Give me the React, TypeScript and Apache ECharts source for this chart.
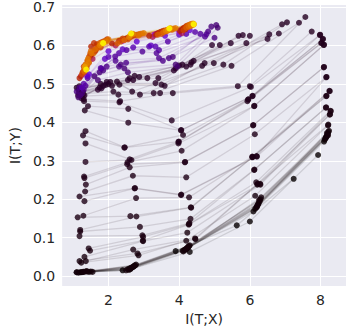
import React, { useEffect, useRef } from "react";
import * as echarts from "echarts";

// Epoch of each snapshot (colour = gnuplot colormap of epoch / MAX_EPOCH)
const MAX_EPOCH = 2000;
const epochs = [
  1, 2, 3, 4, 5, 6, 7, 8, 9, 10, 11, 12, 13, 14,
  15, 16, 17, 18, 19, 20, 21, 22, 23, 24, 25, 26, 27, 28, 29, 30, 31, 32, 33, 34, 35, 36, 37, 38,
  39, 40, 41, 42, 43, 44, 45, 46, 47, 48, 49, 50, 51, 52, 53,
  140, 150, 160, 170, 180, 190, 200, 210, 225, 240, 270, 300,
  700, 840, 960, 1040, 1100, 1160, 1240, 1320, 1400, 1440, 1480, 1520, 1560, 1600, 1700, 2000,
  900, 1000, 1080, 1200, 1280, 1360, 1420, 1460, 1500, 1540, 1580, 1640,
];

// Layer 1 (closest to input) ... layer 5: I(T;X) and I(T;Y) per epoch
const layer1X = [
  7.24, 7.93, 8.10, 8.12, 8.15, 8.18, 8.20, 8.22, 8.16, 8.24, 8.14, 8.20, 8.18, 8.21,
  8.21, 8.22, 8.26, 8.27, 8.29, 8.28, 8.15, 8.16, 8.16, 8.17, 8.26, 8.25, 8.16, 8.17, 8.09, 8.10, 8.09, 8.10, 8.02, 8.03, 8.06, 8.07, 7.98, 7.99,
  7.75, 7.57, 7.39, 7.05, 6.91, 6.82, 6.55, 6.50, 6.00, 5.90, 5.80, 5.68, 5.46, 5.15, 4.93,
  5.09, 5.05, 4.91, 5.00, 4.82, 4.77, 4.73, 4.60, 4.45, 4.20, 4.00, 4.30,
  4.00, 4.05, 4.10, 4.12, 4.15, 4.18, 4.20, 4.22, 4.25, 4.28, 4.30, 4.32, 4.35, 4.38, 4.40, 4.41,
  4.08, 4.02, 4.18, 4.25, 4.12, 4.30, 4.20, 4.35, 4.27, 4.40, 4.33, 4.42,
];
const layer1Y = [
  0.253, 0.315, 0.350, 0.355, 0.360, 0.365, 0.370, 0.375, 0.362, 0.378, 0.358, 0.368, 0.372, 0.366,
  0.392, 0.394, 0.420, 0.421, 0.429, 0.430, 0.438, 0.439, 0.468, 0.469, 0.481, 0.482, 0.517, 0.518, 0.543, 0.544, 0.601, 0.602, 0.606, 0.607, 0.616, 0.617, 0.627, 0.628,
  0.636, 0.674, 0.659, 0.660, 0.655, 0.631, 0.629, 0.617, 0.625, 0.606, 0.627, 0.625, 0.606, 0.601, 0.601,
  0.646, 0.653, 0.649, 0.620, 0.636, 0.629, 0.623, 0.630, 0.635, 0.630, 0.628, 0.640,
  0.636, 0.640, 0.642, 0.645, 0.646, 0.648, 0.650, 0.651, 0.652, 0.653, 0.654, 0.655, 0.656, 0.656, 0.657, 0.655,
  0.632, 0.638, 0.642, 0.648, 0.640, 0.650, 0.646, 0.652, 0.649, 0.654, 0.651, 0.655,
];
const layer2X = [
  5.63, 6.00, 6.10, 6.15, 6.20, 6.22, 6.25, 6.28, 6.30, 6.18, 6.24, 6.32, 6.26, 6.21,
  6.15, 6.21, 6.22, 6.30, 6.29, 6.18, 6.12, 6.13, 6.07, 6.08, 6.07, 6.20, 6.19, 6.14, 6.09, 6.10, 6.12, 6.13, 5.93, 5.95, 5.96, 6.07, 6.08, 6.03,
  6.00, 5.66, 5.48, 5.25, 4.98, 4.65, 4.72, 4.35, 4.41, 4.32, 4.09, 4.20, 4.00, 3.90, 3.85,
  3.95, 3.90, 3.82, 3.71, 3.54, 3.43, 3.36, 3.43, 3.68, 3.33, 3.20, 3.60,
  3.30, 3.35, 3.40, 3.45, 3.50, 3.55, 3.60, 3.65, 3.70, 3.75, 3.80, 3.85, 3.90, 3.70, 3.75, 3.72,
  3.25, 3.15, 3.35, 3.45, 3.60, 3.50, 3.40, 3.65, 3.55, 3.80, 3.62, 3.68,
];
const layer2Y = [
  0.132, 0.142, 0.168, 0.175, 0.180, 0.185, 0.190, 0.195, 0.200, 0.178, 0.188, 0.205, 0.198, 0.183,
  0.209, 0.238, 0.240, 0.238, 0.240, 0.244, 0.276, 0.277, 0.309, 0.310, 0.311, 0.311, 0.312, 0.369, 0.392, 0.393, 0.442, 0.443, 0.455, 0.459, 0.460, 0.468, 0.469, 0.492,
  0.494, 0.494, 0.547, 0.550, 0.554, 0.547, 0.554, 0.556, 0.560, 0.550, 0.550, 0.545, 0.548, 0.540, 0.535,
  0.545, 0.550, 0.570, 0.567, 0.560, 0.567, 0.580, 0.588, 0.610, 0.597, 0.600, 0.625,
  0.628, 0.630, 0.632, 0.634, 0.636, 0.638, 0.639, 0.640, 0.641, 0.642, 0.643, 0.644, 0.645, 0.642, 0.645, 0.644,
  0.622, 0.625, 0.628, 0.633, 0.636, 0.630, 0.628, 0.637, 0.634, 0.641, 0.638, 0.640,
];
const layer3X = [
  3.90, 4.30, 4.10, 4.15, 4.20, 4.22, 4.25, 4.28, 4.30, 4.18, 4.24, 4.12, 4.26, 4.19,
  4.20, 4.46, 4.45, 4.23, 4.27, 4.28, 4.29, 4.32, 4.34, 4.33, 4.28, 4.05, 4.06, 4.20, 4.16, 4.17, 4.07, 3.98, 3.98, 3.99, 4.11, 4.05, 4.06, 3.79,
  3.82, 3.46, 3.28, 2.89, 2.67, 3.50, 3.59, 3.33, 3.41, 3.10, 2.74, 2.87, 2.60, 2.70, 2.55,
  2.55, 2.45, 2.35, 2.30, 2.50, 2.20, 2.96, 2.51, 3.15, 2.70, 2.40, 2.80,
  2.40, 2.45, 2.50, 2.55, 2.60, 2.65, 2.70, 2.75, 2.80, 2.85, 2.90, 2.95, 3.00, 2.70, 2.65, 2.64,
  2.20, 2.10, 2.30, 2.40, 2.55, 2.35, 2.25, 2.60, 2.45, 2.85, 2.58, 2.62,
];
const layer3Y = [
  0.065, 0.063, 0.066, 0.068, 0.070, 0.072, 0.075, 0.078, 0.080, 0.069, 0.074, 0.064, 0.077, 0.071,
  0.092, 0.096, 0.098, 0.113, 0.134, 0.135, 0.138, 0.149, 0.178, 0.179, 0.205, 0.211, 0.212, 0.257, 0.296, 0.297, 0.326, 0.345, 0.349, 0.350, 0.367, 0.379, 0.380, 0.405,
  0.476, 0.476, 0.476, 0.472, 0.480, 0.498, 0.495, 0.502, 0.515, 0.515, 0.521, 0.518, 0.515, 0.510, 0.510,
  0.530, 0.540, 0.550, 0.545, 0.555, 0.560, 0.584, 0.588, 0.597, 0.595, 0.590, 0.610,
  0.612, 0.615, 0.618, 0.620, 0.622, 0.624, 0.626, 0.627, 0.628, 0.629, 0.630, 0.631, 0.632, 0.630, 0.631, 0.631,
  0.600, 0.605, 0.612, 0.618, 0.616, 0.610, 0.605, 0.620, 0.614, 0.626, 0.622, 0.626,
];
const layer4X = [
  2.40, 2.62, 2.55, 2.60, 2.65, 2.70, 2.72, 2.75, 2.78, 2.58, 2.68, 2.50, 2.74, 2.64,
  2.85, 2.82, 2.70, 2.98, 2.97, 2.98, 2.96, 2.89, 2.79, 2.62, 2.78, 2.74, 2.75, 2.69, 2.60, 2.53, 2.54, 2.65, 2.60, 2.45, 2.46, 2.56, 2.56, 2.31,
  2.33, 2.28, 2.14, 2.31, 2.24, 2.00, 1.92, 1.78, 2.05, 2.10, 1.95, 1.85, 1.75, 1.80, 1.70,
  1.70, 1.60, 1.75, 1.85, 1.95, 1.80, 2.19, 1.78, 2.30, 2.00, 1.90, 2.00,
  1.60, 1.65, 1.70, 1.96, 1.67, 1.59, 1.80, 1.85, 1.90, 1.75, 1.95, 2.00, 1.88, 1.82, 1.85, 1.85,
  1.55, 1.50, 1.62, 1.72, 1.78, 1.65, 1.58, 1.70, 1.62, 1.95, 1.76, 1.80,
];
const layer4Y = [
  0.015, 0.018, 0.018, 0.020, 0.022, 0.024, 0.026, 0.028, 0.030, 0.016, 0.023, 0.015, 0.027, 0.021,
  0.054, 0.059, 0.069, 0.091, 0.092, 0.102, 0.106, 0.128, 0.155, 0.156, 0.203, 0.228, 0.229, 0.261, 0.283, 0.291, 0.296, 0.302, 0.304, 0.334, 0.335, 0.399, 0.435, 0.452,
  0.455, 0.472, 0.480, 0.498, 0.506, 0.500, 0.498, 0.500, 0.505, 0.495, 0.505, 0.495, 0.490, 0.488, 0.485,
  0.510, 0.520, 0.530, 0.535, 0.545, 0.540, 0.571, 0.541, 0.580, 0.570, 0.565, 0.585,
  0.585, 0.592, 0.600, 0.616, 0.603, 0.606, 0.608, 0.610, 0.612, 0.606, 0.614, 0.616, 0.608, 0.607, 0.606, 0.606,
  0.565, 0.575, 0.585, 0.598, 0.595, 0.590, 0.580, 0.595, 0.590, 0.610, 0.600, 0.604,
];
const layer5X = [
  1.10, 1.22, 1.20, 1.25, 1.30, 1.35, 1.40, 1.45, 1.50, 1.15, 1.55, 1.10, 1.38, 1.28,
  1.23, 1.18, 1.36, 1.32, 1.48, 1.44, 1.18, 1.20, 1.20, 1.13, 1.29, 1.32, 1.18, 1.34, 1.36, 1.32, 1.31, 1.35, 1.35, 1.28, 1.35, 1.33, 1.42, 1.31,
  1.30, 1.25, 1.20, 1.28, 1.15, 1.22, 1.10, 1.18, 1.26, 1.14, 1.24, 1.32, 1.20, 1.16, 1.28,
  1.15, 1.20, 1.25, 1.10, 1.30, 1.18, 1.35, 1.41, 1.30, 1.25, 1.40, 1.45,
  1.28, 1.32, 1.38, 1.51, 1.42, 1.30, 1.45, 1.35, 1.48, 1.40, 1.50, 1.33, 1.42, 1.36, 1.33, 1.37,
  1.22, 1.18, 1.27, 1.36, 1.45, 1.25, 1.30, 1.40, 1.32, 1.52, 1.44, 1.35,
];
const layer5Y = [
  0.010, 0.010, 0.010, 0.010, 0.011, 0.012, 0.012, 0.011, 0.012, 0.009, 0.011, 0.010, 0.013, 0.011,
  0.035, 0.039, 0.039, 0.050, 0.066, 0.072, 0.104, 0.116, 0.120, 0.153, 0.157, 0.195, 0.207, 0.220, 0.238, 0.255, 0.259, 0.297, 0.345, 0.366, 0.377, 0.431, 0.442, 0.455,
  0.460, 0.468, 0.474, 0.480, 0.485, 0.488, 0.490, 0.494, 0.478, 0.470, 0.462, 0.470, 0.482, 0.476, 0.472,
  0.465, 0.470, 0.475, 0.480, 0.485, 0.490, 0.495, 0.515, 0.500, 0.490, 0.520, 0.525,
  0.525, 0.530, 0.540, 0.597, 0.560, 0.545, 0.570, 0.550, 0.578, 0.560, 0.585, 0.540, 0.565, 0.550, 0.545, 0.537,
  0.520, 0.515, 0.530, 0.545, 0.555, 0.525, 0.535, 0.548, 0.532, 0.580, 0.556, 0.542,
];

const xTicks = [2, 4, 6, 8];
const yTicks = [0, 0.1, 0.2, 0.3, 0.4, 0.5, 0.6, 0.7];
const xLabel = "I(T;X)";
const yLabel = "I(T;Y)";

function gnuplot(t: number): string {
  const r = Math.sqrt(t);
  const g = t * t * t;
  const b = Math.max(0, Math.sin(2 * Math.PI * t));
  const c = (v: number) => Math.round(Math.min(1, Math.max(0, v)) * 255);
  return `rgb(${c(r)},${c(g)},${c(b)})`;
}

export default function App() {
  const ref = useRef<HTMLDivElement>(null);
  useEffect(() => {
    if (!ref.current) return;
    const chart = echarts.init(ref.current, null, { renderer: "svg" });
    const layersX = [layer1X, layer2X, layer3X, layer4X, layer5X];
    const layersY = [layer1Y, layer2Y, layer3Y, layer4Y, layer5Y];
    const order = epochs.map((_, i) => i).sort((a, b) => epochs[a] - epochs[b]);
    const lineData: any[] = [];
    const pointData: any[] = [];
    order.forEach((i) => {
      const col = gnuplot(epochs[i] / MAX_EPOCH);
      const coords = layersX.map((lx, k) => [lx[i], layersY[k][i]]);
      lineData.push({ coords, lineStyle: { color: col } });
      coords.forEach((c) => pointData.push({ value: c, itemStyle: { color: col } }));
    });
    const font = "DejaVu Sans";
    chart.setOption({
      animation: false,
      grid: {
        left: 52,
        right: 5,
        top: 5,
        bottom: 43,
        show: true,
        backgroundColor: "#EAEAF2",
        borderWidth: 0,
      },
      xAxis: {
        type: "value",
        min: 0.69,
        max: 8.72,
        name: xLabel,
        nameLocation: "middle",
        nameGap: 21,
        nameTextStyle: { fontSize: 14, color: "#262626", fontFamily: font },
        axisLine: { show: false },
        axisTick: { show: false, customValues: xTicks },
        axisLabel: {
          customValues: xTicks,
          fontSize: 14,
          color: "#262626",
          fontFamily: font,
          margin: 7,
          formatter: (v: number) => String(v),
        },
        splitLine: { show: true, lineStyle: { color: "#ffffff", width: 1 } },
      },
      yAxis: {
        type: "value",
        min: -0.026,
        max: 0.705,
        name: yLabel,
        nameLocation: "middle",
        nameGap: 34,
        nameTextStyle: { fontSize: 14, color: "#262626", fontFamily: font },
        axisLine: { show: false },
        axisTick: { show: false, customValues: yTicks },
        axisLabel: {
          customValues: yTicks,
          fontSize: 14,
          color: "#262626",
          fontFamily: font,
          margin: 7,
          formatter: (v: number) => v.toFixed(1),
        },
        splitLine: { show: true, lineStyle: { color: "#ffffff", width: 1 } },
      },
      series: [
        {
          type: "lines",
          coordinateSystem: "cartesian2d",
          polyline: true,
          silent: true,
          z: 2,
          lineStyle: { width: 1.3, opacity: 0.12 },
          data: lineData,
        },
        {
          type: "scatter",
          symbolSize: 6,
          silent: true,
          z: 3,
          data: pointData,
        },
      ],
    });
    return () => chart.dispose();
  }, []);
  return (
    <div
      ref={ref}
      style={{ position: "absolute", left: 0, top: 0, width: 351, height: 331 }}
    />
  );
}
